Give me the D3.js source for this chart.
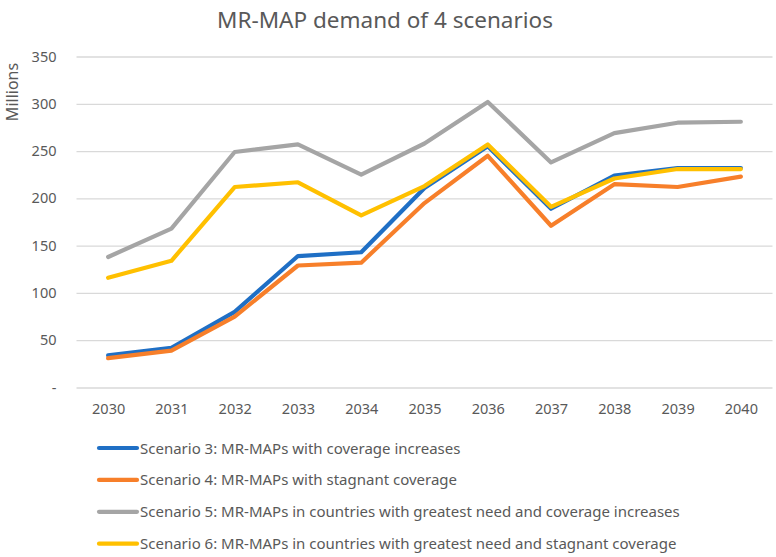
<!DOCTYPE html>
<html>
<head>
<meta charset="utf-8">
<script src="https://cdn.jsdelivr.net/npm/d3@7"></script>
<style>
  body { margin: 0; background: #fff; }
  text { font-family: "Noto Sans", "Open Sans", sans-serif; fill: #595959; }
</style>
</head>
<body>
<svg width="776" height="557"></svg>
<script>
// years along the x axis
const years = ['2030', '2031', '2032', '2033', '2034', '2035', '2036', '2037', '2038', '2039', '2040'];

// demand in millions
const scenario3 = [34, 42, 80, 139, 143, 211, 255, 189, 224, 232, 232];
const scenario4 = [31, 39, 75, 129, 132, 195, 245, 171, 215, 212, 223];
const scenario5 = [138, 168, 249, 257, 225, 258, 302, 238, 269, 280, 281];
const scenario6 = [116, 134, 212, 217, 182, 213, 257, 191, 221, 231, 231];

const seriesNames = [
  'Scenario 3: MR-MAPs with coverage increases',
  'Scenario 4: MR-MAPs with stagnant coverage',
  'Scenario 5: MR-MAPs in countries with greatest need and coverage increases',
  'Scenario 6: MR-MAPs in countries with greatest need and stagnant coverage'
];
const yTicks = [0, 50, 100, 150, 200, 250, 300, 350];

const colors = ['#1f6fc5', '#f77f2a', '#a5a5a5', '#ffc000'];
const series = [scenario3, scenario4, scenario5, scenario6];

const svg = d3.select('svg');

// plot area
const plot = { left: 76.5, right: 772.5, top: 56.5, bottom: 387.5 };

const x = d3.scalePoint().domain(years).range([plot.left, plot.right]).padding(0.5);
const y = d3.scaleLinear().domain([0, 350]).range([plot.bottom, plot.top]);

// gridlines + y labels
const yAxis = svg.append('g')
  .attr('transform', 'translate(' + plot.left + ',0)')
  .call(d3.axisLeft(y).tickValues(yTicks)
    .tickSize(-(plot.right - plot.left))
    .tickPadding(20)
    .tickFormat(d => d === 0 ? '-' : d));
yAxis.select('.domain').remove();
yAxis.selectAll('line').attr('stroke', '#d9d9d9').attr('stroke-width', 1.3);
yAxis.selectAll('text')
  .style('font-family', '"Noto Sans", sans-serif')
  .style('font-size', '14.5px')
  .attr('fill', '#595959');

// x labels
const xAxis = svg.append('g')
  .attr('transform', 'translate(0,' + plot.bottom + ')')
  .call(d3.axisBottom(x).tickSize(0).tickPadding(16));
xAxis.select('.domain').remove();
xAxis.selectAll('text')
  .style('font-family', '"Noto Sans", sans-serif')
  .style('font-size', '14.5px')
  .attr('fill', '#595959');

// lines
const line = d3.line()
  .x((d, i) => x(years[i]))
  .y(d => y(d));

svg.append('g')
  .selectAll('path')
  .data(series)
  .enter()
  .append('path')
  .attr('d', d => line(d))
  .attr('fill', 'none')
  .attr('stroke', (d, i) => colors[i])
  .attr('stroke-width', 4.2)
  .attr('stroke-linejoin', 'round')
  .attr('stroke-linecap', 'round');

// title
svg.append('text')
  .attr('x', 385)
  .attr('y', 28)
  .attr('text-anchor', 'middle')
  .style('font-size', '22.5px')
  .text('MR-MAP demand of 4 scenarios');

// y axis label
svg.append('text')
  .attr('transform', 'translate(18,92) rotate(-90)')
  .attr('text-anchor', 'middle')
  .style('font-size', '16px')
  .text('Millions');

// legend
const legend = svg.append('g')
  .selectAll('g')
  .data(seriesNames)
  .enter()
  .append('g')
  .attr('transform', (d, i) => 'translate(99,' + (448 + i * 31.9) + ')');

legend.append('line')
  .attr('x1', 0)
  .attr('x2', 38)
  .attr('stroke', (d, i) => colors[i])
  .attr('stroke-width', 4.2)
  .attr('stroke-linecap', 'round');

legend.append('text')
  .attr('x', 41)
  .attr('y', 5.5)
  .style('font-size', '15px')
  .text(d => d);
</script>
</body>
</html>
